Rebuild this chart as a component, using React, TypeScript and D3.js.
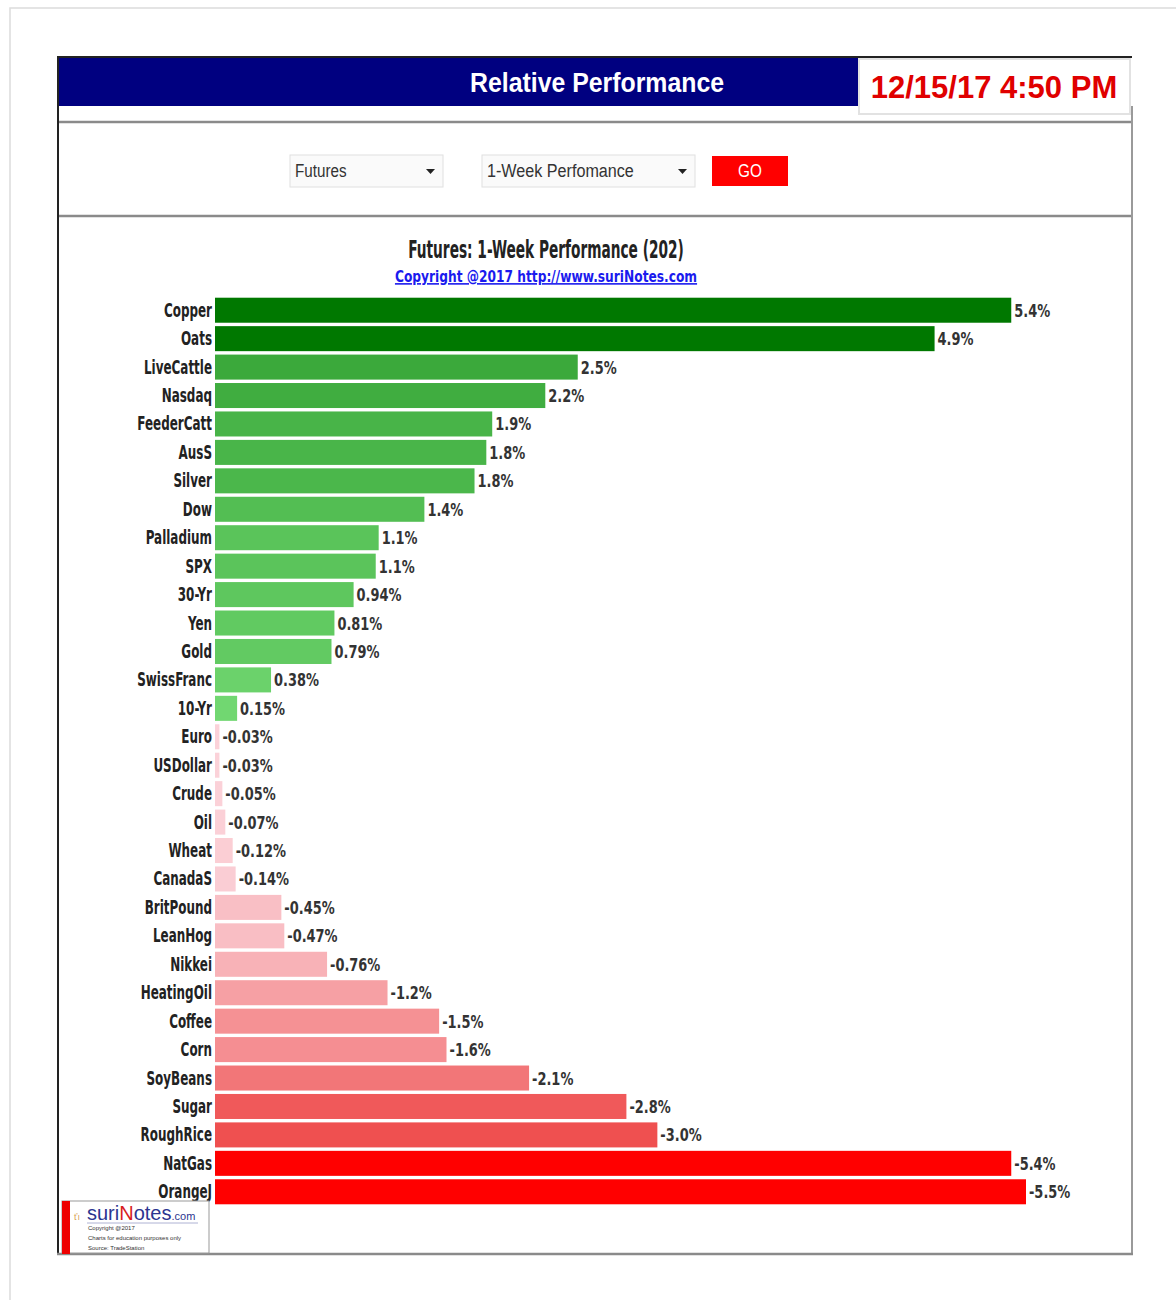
import React from "react";
import * as d3 from "d3";

// futures, sorted by 1-week performance (%)
const names = [
  "Copper", "Oats", "LiveCattle", "Nasdaq", "FeederCatt", "AusS", "Silver", "Dow",
  "Palladium", "SPX", "30-Yr", "Yen", "Gold", "SwissFranc", "10-Yr", "Euro",
  "USDollar", "Crude", "Oil", "Wheat", "CanadaS", "BritPound", "LeanHog", "Nikkei",
  "HeatingOil", "Coffee", "Corn", "SoyBeans", "Sugar", "RoughRice", "NatGas", "OrangeJ",
];
const values = [
  5.4, 4.88, 2.46, 2.24, 1.88, 1.84, 1.76, 1.42,
  1.11, 1.09, 0.94, 0.81, 0.79, 0.38, 0.15, -0.03,
  -0.03, -0.05, -0.07, -0.12, -0.14, -0.45, -0.47, -0.76,
  -1.17, -1.52, -1.57, -2.13, -2.79, -3.0, -5.4, -5.5,
];

const chartTitle = "Futures: 1-Week Performance (202)";
const copyright = "Copyright @2017  http://www.suriNotes.com";

const narrow = "'DejaVu Sans Condensed', 'DejaVu Sans', sans-serif";
const arial = "'Liberation Sans', Arial, sans-serif";

const fmt = (v: number) => (Math.abs(v) < 1 ? v.toFixed(2) : v.toFixed(1)) + "%";

const greenScale = d3.scaleLinear<string>().domain([0, 2.5]).range(["#74da74", "#3aa83a"]).clamp(true);
const redScale = d3.scaleLinear<string>().domain([0, 3]).range(["#fbd3da", "#ef5050"]).clamp(true);
const barColor = (v: number) => {
  if (v >= 4) return "#007800";
  if (v <= -4) return "#ff0000";
  return v >= 0 ? greenScale(v) : redScale(-v);
};

// squeezed text, to mimic the narrow bold face of the original
function Squeeze({ x, y, sx, anchor = "start", children, ...rest }: any) {
  return (
    <g transform={`translate(${x},${y}) scale(${sx},1)`}>
      <text x={0} y={0} textAnchor={anchor} {...rest}>{children}</text>
    </g>
  );
}

export default function App() {
  const x = d3.scaleLinear().domain([0, 5.5]).range([215, 1026]);
  const y = d3.scaleBand<string>().domain(names).range([296, 1206]).paddingInner(0.12).paddingOuter(0.06);
  const rows = names.map((n, i) => ({ name: n, value: values[i] }));

  return (
    <svg width={1176} height={1300} style={{ position: "absolute", left: 0, top: 0, background: "#fff" }}>
      {/* page frame */}
      <path d="M10,1300 V8 H1176" fill="none" stroke="#dcdcdc" strokeWidth={1.5} />

      {/* header */}
      <rect x={57} y={57} width={802} height={49} fill="#000080" />
      <line x1={57} y1={57} x2={1132} y2={57} stroke="#222" strokeWidth={2} />
      <Squeeze x={597} y={92} sx={0.92} anchor="middle" fill="#fff" fontFamily={arial} fontWeight="bold" fontSize={27}>
        Relative Performance
      </Squeeze>
      <rect x={859} y={59} width={271} height={55} fill="#fff" stroke="#e2e2e2" strokeWidth={2} />
      <text x={994} y={98} textAnchor="middle" fill="#e00000" fontFamily={arial} fontWeight="bold" fontSize={31}>
        12/15/17 4:50 PM
      </text>

      {/* panel borders */}
      <line x1={57} y1={122} x2={1132} y2={122} stroke="#8a8a8a" strokeWidth={2.5} />
      <line x1={57} y1={216} x2={1132} y2={216} stroke="#8a8a8a" strokeWidth={2.5} />
      <line x1={58} y1={57} x2={58} y2={1254} stroke="#222" strokeWidth={2} />
      <line x1={1132} y1={106} x2={1132} y2={1254} stroke="#9a9a9a" strokeWidth={2} />
      <line x1={57} y1={1254} x2={1133} y2={1254} stroke="#8a8a8a" strokeWidth={2.5} />

      {/* controls */}
      <rect x={290} y={155} width={153} height={32} fill="#fafafa" stroke="#e0e0e0" />
      <Squeeze x={295} y={177} sx={0.8} fontFamily={arial} fontSize={19} fill="#333">Futures</Squeeze>
      <path d="M426,169 h9 l-4.5,5 z" fill="#222" />
      <rect x={482} y={155} width={213} height={32} fill="#fafafa" stroke="#e0e0e0" />
      <Squeeze x={487} y={177} sx={0.85} fontFamily={arial} fontSize={19} fill="#333">1-Week Perfomance</Squeeze>
      <path d="M678,169 h9 l-4.5,5 z" fill="#222" />
      <rect x={712} y={156} width={76} height={30} fill="#ff0000" />
      <Squeeze x={750} y={177} sx={0.85} anchor="middle" fontFamily={arial} fontSize={18} fill="#fff">GO</Squeeze>

      {/* chart titles */}
      <Squeeze x={546} y={258} sx={0.61} anchor="middle" fontFamily={narrow} fontWeight="bold" fontSize={25} fill="#222">
        {chartTitle}
      </Squeeze>
      <Squeeze x={546} y={282} sx={0.85} anchor="middle" fontFamily={narrow} fontWeight="bold" fontSize={16} fill="#1a1aee"
        textDecoration="underline">
        {copyright}
      </Squeeze>

      {/* bars */}
      <g>
        {rows.map((d) => {
          const y0 = y(d.name) as number;
          const w = Math.max(x(Math.abs(d.value)) - x(0), 1.5);
          const cy = y0 + y.bandwidth() / 2;
          return (
            <g key={d.name}>
              <rect x={x(0)} y={y0} width={w} height={y.bandwidth()} fill={barColor(d.value)} />
              <Squeeze x={x(0) - 3} y={cy + 6.5} sx={0.7} anchor="end"
                fontFamily={narrow} fontWeight="bold" fontSize={19} fill="#222">
                {d.name}
              </Squeeze>
              <Squeeze x={x(0) + w + 3} y={cy + 6.5} sx={0.8} fontFamily={narrow} fontWeight="bold" fontSize={18} fill="#333">
                {fmt(d.value)}
              </Squeeze>
            </g>
          );
        })}
      </g>

      {/* logo box */}
      <rect x={62} y={1201} width={147} height={52} fill="#fff" stroke="#999" strokeWidth={1} />
      <rect x={62} y={1201} width={8} height={53} fill="#ee0000" />
      <text x={74} y={1220} fontFamily={arial} fontSize={9} fill="#d9a050">ťı</text>
      <text x={87} y={1220} fontFamily={arial} fontSize={20}>
        <tspan fill="#2c3590">suri</tspan>
        <tspan fill="#d81c1c">N</tspan>
        <tspan fill="#2c3590">otes</tspan>
        <tspan fill="#2c3590" fontSize={11}>.com</tspan>
      </text>
      <line x1={87} y1={1223} x2={198} y2={1223} stroke="#9aa0c8" strokeWidth={0.8} />
      <text x={88} y={1230} fontFamily={arial} fontSize={6} fill="#333">Copyright @2017</text>
      <text x={88} y={1240} fontFamily={arial} fontSize={6} fill="#333">Charts for education purposes only</text>
      <text x={88} y={1250} fontFamily={arial} fontSize={6} fill="#333">Source: TradeStation</text>
    </svg>
  );
}
